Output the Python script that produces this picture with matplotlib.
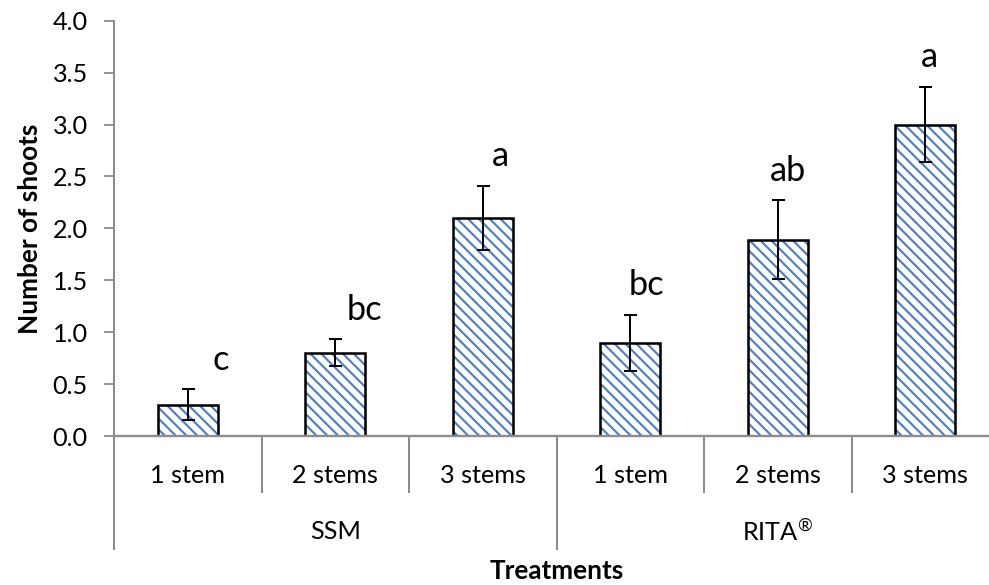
import matplotlib
matplotlib.use("Agg")
import matplotlib.pyplot as plt
import matplotlib.transforms as mtransforms

# ---- data ----
groups = ["SSM", r"RITA$^{®}$"]
categories = ["1 stem", "2 stems", "3 stems", "1 stem", "2 stems", "3 stems"]
means = [0.30, 0.80, 2.10, 0.90, 1.89, 3.00]
errors = [0.15, 0.13, 0.31, 0.27, 0.38, 0.36]
letters = ["c", "bc", "a", "bc", "ab", "a"]
yticks = [0.0, 0.5, 1.0, 1.5, 2.0, 2.5, 3.0, 3.5, 4.0]

# ---- layout/style ----
letter_dx = [0.22, 0.20, 0.12, 0.11, 0.07, 0.03]
letter_gap = 0.19
DPI = 130
W, H = 989, 585
plt.rcParams["font.family"] = ["Lato", "DejaVu Sans"]
plt.rcParams["mathtext.fontset"] = "custom"
plt.rcParams["mathtext.rm"] = "Lato"
plt.rcParams["hatch.linewidth"] = 1.2
grey = "#8c8c8c"
blue = "#4f7fc6"

fig = plt.figure(figsize=(W / DPI, H / DPI), dpi=DPI)
slot = 147.5
left_px, bottom_px, top_px = 114, 436, 20.7
ax = fig.add_axes([left_px / W, (H - bottom_px) / H, 6 * slot / W, (bottom_px - top_px) / H])

x = list(range(len(means)))
# hatched fill
ax.bar(x, means, width=0.41, color="white", edgecolor=blue, linewidth=0,
       hatch="\\\\\\\\", zorder=2)
# black outline
ax.bar(x, means, width=0.41, fill=False, edgecolor="black", linewidth=1.4, zorder=3)
ax.errorbar(x, means, yerr=errors, fmt="none", ecolor="black", elinewidth=1.1,
            capsize=3.6, capthick=1.1, zorder=4)

ax.set_xlim(-0.5, 5.5)
ax.set_ylim(0, 4.0)
ax.set_yticks(yticks)
ax.set_yticklabels([f"{v:.1f}" for v in yticks], fontsize=14)
ax.tick_params(axis="y", direction="out", length=5.5, width=1.0, color=grey, pad=9)
ax.tick_params(axis="x", length=0, labelbottom=False)
for s in ("top", "right"):
    ax.spines[s].set_visible(False)
ax.spines["left"].set_color(grey)
ax.spines["left"].set_linewidth(1.1)
ax.spines["bottom"].set_color(grey)
ax.spines["bottom"].set_linewidth(1.3)
ax.spines["bottom"].set_zorder(5)

trans = mtransforms.blended_transform_factory(ax.transData, ax.transAxes)
# dividers
for b in [-0.5, 0.5, 1.5, 2.5, 3.5, 4.5, 5.5]:
    low = -0.272 if b in (-0.5, 2.5, 5.5) else -0.135
    ax.plot([b, b], [0, low], transform=trans, color=grey, lw=1.1, clip_on=False)

for i, c in enumerate(categories):
    ax.text(i, -0.096, c, transform=trans, ha="center", va="center", fontsize=14)
for g, name in enumerate(groups):
    ax.text(3 * g + 1, -0.231, name, transform=trans, ha="center", va="center", fontsize=14)

for i, (m, e, l) in enumerate(zip(means, errors, letters)):
    ax.text(i + letter_dx[i], m + e + letter_gap, l, ha="center", va="baseline", fontsize=19)

ax.text(2.5, 6 / H, "Treatments",
        transform=mtransforms.blended_transform_factory(ax.transData, fig.transFigure),
        ha="center", va="baseline", fontsize=14.5, fontweight="bold")
fig.text(30 / W, (H - (bottom_px + top_px) / 2) / H, "Number of shoots", rotation=90,
         ha="center", va="center", fontsize=14.5, fontweight="bold")

fig.savefig("out.png", dpi=DPI)
